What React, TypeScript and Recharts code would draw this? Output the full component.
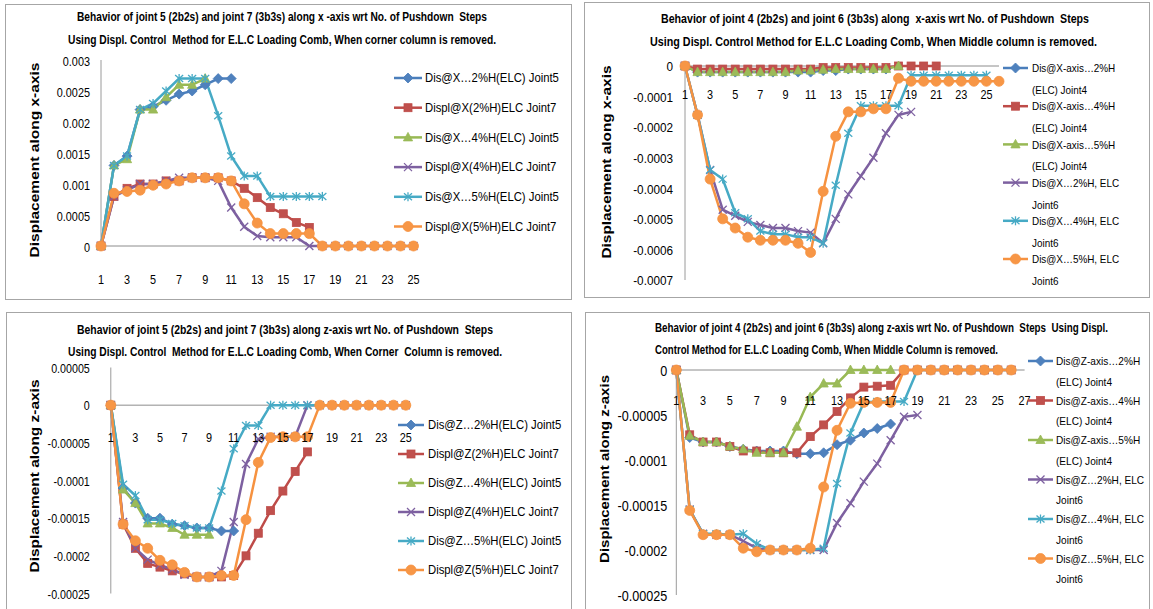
import React from 'react';
import { LineChart, Line, XAxis, YAxis, ReferenceLine, Legend } from 'recharts';

const FONT = "'Liberation Sans', Arial, sans-serif";
// the original uses a narrow (Calibri-like) face; squeeze Liberation Sans horizontally
const SX = 0.87;
const TITLE_SX = 0.75;

// pushdown steps (categories)
const steps25 = ['1', '2', '3', '4', '5', '6', '7', '8', '9', '10', '11', '12', '13', '14', '15', '16', '17', '18', '19', '20', '21', '22', '23', '24', '25'];
const steps26 = [...steps25, '26'];
const steps27 = [...steps26, '27'];

// top-left: x-axis, corner column removed
const xcJ5p2 = [0, 0.0013, 0.00145, 0.0022, 0.00225, 0.00235, 0.00245, 0.0025, 0.0026, 0.0027, 0.0027];
const xcJ7p2 = [0, 0.0008, 0.00093, 0.001, 0.001, 0.00105, 0.00105, 0.0011, 0.0011, 0.0011, 0.00105, 0.00093, 0.00078, 0.00062, 0.00052, 0.00038, 0.0003];
const xcJ5p4 = [0, 0.0013, 0.0014, 0.0022, 0.0022, 0.0024, 0.0026, 0.0026, 0.0027];
const xcJ7p4 = [0, 0.0008, 0.0009, 0.001, 0.001, 0.00105, 0.0011, 0.0011, 0.0011, 0.00105, 0.00062, 0.00031, 0.00016, 0.00014, 0.00014, 0.00014, 0, 0, 0, 0, 0, 0, 0, 0, 0];
const xcJ5p5 = [0, 0.0013, 0.00145, 0.0022, 0.0023, 0.0025, 0.0027, 0.0027, 0.0027, 0.0021, 0.00145, 0.00113, 0.00113, 0.0008, 0.0008, 0.0008, 0.0008, 0.0008];
const xcJ7p5 = [0, 0.00085, 0.00088, 0.0009, 0.00098, 0.001, 0.00105, 0.0011, 0.0011, 0.0011, 0.00105, 0.00068, 0.00037, 0.0002, 0.0002, 0.0002, 0.0002, 0, 0, 0, 0, 0, 0, 0, 0];

// top-right: x-axis, middle column removed
const xmJ4p2 = [0, -0.00002, -0.00002, -0.00002, -0.00002, -0.00002, -0.00002, -0.00002, -0.00002, -0.00002, -0.00002, -0.000015, -0.000015, -0.00001, -0.00001, -0.00001, -0.00001];
const xmJ4p4 = [0, -0.00001, -0.00001, -0.00001, -0.00001, -0.00001, -0.00001, -0.00001, -0.00001, -0.00001, -0.00001, -0.000005, -0.000005, -0.000005, -0.000005, -0.000005, -0.000005, 0, 0, 0, 0];
const xmJ4p5 = [0, -0.00002, -0.00002, -0.00002, -0.00002, -0.00002, -0.00002, -0.00002, -0.00002, -0.000015, -0.000015, -0.000012, -0.00001, -0.00001, -0.00001, -0.00001, -0.00001, 0];
const xmJ6p2 = [0, -0.00016, -0.00034, -0.00047, -0.00049, -0.00051, -0.00052, -0.00053, -0.00053, -0.00054, -0.000545, -0.00058, -0.0005, -0.00042, -0.00036, -0.0003, -0.00022, -0.00016, -0.00015];
const xmJ6p4 = [0, -0.00016, -0.00034, -0.00037, -0.00048, -0.0005, -0.00054, -0.00055, -0.00055, -0.00056, -0.00056, -0.00058, -0.00039, -0.00022, -0.00013, -0.00013, -0.00013, -0.00013, -0.00003, -0.00003, -0.00003, -0.00003, -0.00003, -0.00003, -0.00003];
const xmJ6p5 = [0, -0.00016, -0.00037, -0.0005, -0.00053, -0.00056, -0.00057, -0.00057, -0.00057, -0.00058, -0.00061, -0.00041, -0.00023, -0.00015, -0.00015, -0.00014, -0.00014, -0.00004, -0.00005, -0.00005, -0.00005, -0.00005, -0.00005, -0.00005, -0.00005, -0.00005];

// bottom-left: z-axis, corner column removed
const zcJ5p2 = [0, -0.00011, -0.00013, -0.00015, -0.00015, -0.000158, -0.00016, -0.000163, -0.000163, -0.000167, -0.000167];
const zcJ7p2 = [0, -0.000158, -0.00019, -0.00021, -0.000215, -0.00022, -0.000224, -0.000228, -0.000228, -0.000228, -0.000226, -0.0002, -0.00017, -0.00014, -0.000114, -0.000088, -0.000062];
const zcJ5p4 = [0, -0.000112, -0.00013, -0.000157, -0.000157, -0.000163, -0.000172, -0.000172, -0.000172];
const zcJ7p4 = [0, -0.000155, -0.00019, -0.000205, -0.000212, -0.000218, -0.000225, -0.000228, -0.000228, -0.00022, -0.000155, -0.000078, -0.000045, -0.000042, -0.000042, -0.000042, 0, 0, 0, 0, 0, 0, 0, 0, 0];
const zcJ5p5 = [0, -0.000105, -0.00012, -0.000152, -0.000152, -0.000157, -0.00016, -0.000163, -0.000163, -0.000114, -0.000058, -0.000027, -0.000027, 0, 0, 0, 0, 0];
const zcJ7p5 = [0, -0.000158, -0.00018, -0.00019, -0.000206, -0.000212, -0.000222, -0.000228, -0.000228, -0.000226, -0.000226, -0.000152, -0.000076, -0.000043, -0.000042, -0.000042, -0.000042, 0, 0, 0, 0, 0, 0, 0, 0];

// bottom-right: z-axis, middle column removed
const zmJ4p2 = [0, -0.000075, -0.00008, -0.00008, -0.000085, -0.000088, -0.00009, -0.00009, -0.00009, -0.000093, -0.000093, -0.000092, -0.000083, -0.000078, -0.00007, -0.000065, -0.00006];
const zmJ4p4 = [0, -0.000072, -0.00008, -0.00008, -0.000085, -0.00009, -0.00009, -0.000092, -0.000092, -0.000092, -0.000074, -0.000061, -0.000046, -0.000031, -0.000019, -0.000018, -0.000017, 0, 0, 0, 0, 0, 0, 0, 0, 0];
const zmJ4p5 = [0, -0.000073, -0.00008, -0.00008, -0.000085, -0.000088, -0.000092, -0.000092, -0.000092, -0.000063, -0.00003, -0.000015, -0.000015, 0, 0, 0, 0];
const zmJ6p2 = [0, -0.000155, -0.000182, -0.000183, -0.000183, -0.00019, -0.000198, -0.0002, -0.0002, -0.0002, -0.0002, -0.0002, -0.00017, -0.000148, -0.000124, -0.000104, -0.000078, -0.000052, -0.00005];
const zmJ6p4 = [0, -0.000155, -0.000182, -0.000182, -0.000183, -0.000182, -0.000193, -0.0002, -0.0002, -0.0002, -0.0002, -0.000198, -0.000126, -0.00007, -0.000036, -0.000035, -0.000035, -0.000035, 0, 0, 0, 0, 0, 0, 0, 0];
const zmJ6p5 = [0, -0.000156, -0.000183, -0.000183, -0.000183, -0.000198, -0.000202, -0.0002, -0.0002, -0.0002, -0.000198, -0.00013, -0.000067, -0.000037, -0.000036, -0.000036, -0.000036, 0, 0, 0, 0, 0, 0, 0, 0, 0];

// axis ticks
const ticksXC = [0, 0.0005, 0.001, 0.0015, 0.002, 0.0025, 0.003];
const ticksXM = [0, -0.0001, -0.0002, -0.0003, -0.0004, -0.0005, -0.0006, -0.0007];
const ticksZ = [0.00005, 0, -0.00005, -0.0001, -0.00015, -0.0002, -0.00025];
const ticksZM = [0, -0.00005, -0.0001, -0.00015, -0.0002, -0.00025];

// legend labels
const namesXC = [['Dis@X…2%H(ELC) Joint5'], ['Displ@X(2%H)ELC Joint7'], ['Dis@X…4%H(ELC) Joint5'], ['Displ@X(4%H)ELC Joint7'], ['Dis@X…5%H(ELC) Joint5'], ['Displ@X(5%H)ELC Joint7']];
const namesXM = [['Dis@X-axis…2%H', '(ELC) Joint4'], ['Dis@X-axis…4%H', '(ELC) Joint4'], ['Dis@X-axis…5%H', '(ELC) Joint4'], ['Dis@X…2%H, ELC', 'Joint6'], ['Dis@X…4%H, ELC', 'Joint6'], ['Dis@X…5%H, ELC', 'Joint6']];
const namesZC = [['Dis@Z…2%H(ELC) Joint5'], ['Displ@Z(2%H)ELC Joint7'], ['Dis@Z…4%H(ELC) Joint5'], ['Displ@Z(4%H)ELC Joint7'], ['Dis@Z…5%H(ELC) Joint5'], ['Displ@Z(5%H)ELC Joint7']];
const namesZM = [['Dis@Z-axis…2%H', '(ELC) Joint4'], ['Dis@Z-axis…4%H', '(ELC) Joint4'], ['Dis@Z-axis…5%H', '(ELC) Joint4'], ['Dis@Z…2%H, ELC', 'Joint6'], ['Dis@Z…4%H, ELC', 'Joint6'], ['Dis@Z…5%H, ELC', 'Joint6']];

type Shape = 'diamond' | 'square' | 'triangle' | 'cross' | 'star' | 'circle';
const SHAPES: Shape[] = ['diamond', 'square', 'triangle', 'cross', 'star', 'circle'];
const LINE_COLORS = ['#4A7EBB', '#BE4B48', '#98B954', '#7D60A0', '#46AAC5', '#F69240'];
const FILL_COLORS = ['#4F81BD', '#C0504D', '#9BBB59', '#7D60A0', '#4BACC6', '#F79646'];

function Marker({ shape, cx, cy, i }: { shape: Shape; cx: number; cy: number; i: number }) {
  if (cx == null || cy == null || isNaN(cx) || isNaN(cy)) return <g />;
  const fill = FILL_COLORS[i];
  const stroke = LINE_COLORS[i];
  switch (shape) {
    case 'diamond':
      return <polygon points={`${cx},${cy - 5} ${cx + 5},${cy} ${cx},${cy + 5} ${cx - 5},${cy}`} fill={fill} stroke={stroke} strokeWidth={0.8} />;
    case 'square':
      return <rect x={cx - 4} y={cy - 4} width={8} height={8} fill={fill} stroke={stroke} strokeWidth={0.8} />;
    case 'triangle':
      return <polygon points={`${cx},${cy - 5} ${cx + 4.6},${cy + 3.5} ${cx - 4.6},${cy + 3.5}`} fill={fill} stroke={stroke} strokeWidth={0.8} />;
    case 'cross':
      return (
        <g stroke={stroke} strokeWidth={1.3}>
          <line x1={cx - 4} y1={cy - 4} x2={cx + 4} y2={cy + 4} />
          <line x1={cx - 4} y1={cy + 4} x2={cx + 4} y2={cy - 4} />
        </g>
      );
    case 'star':
      return (
        <g stroke={stroke} strokeWidth={1.3}>
          <line x1={cx - 4} y1={cy - 3.5} x2={cx + 4} y2={cy + 3.5} />
          <line x1={cx - 4} y1={cy + 3.5} x2={cx + 4} y2={cy - 3.5} />
          <line x1={cx} y1={cy - 4.5} x2={cx} y2={cy + 4.5} />
        </g>
      );
    default:
      return <circle cx={cx} cy={cy} r={5} fill={fill} stroke={stroke} strokeWidth={0.8} />;
  }
}

// narrow text: regular face squeezed horizontally
function NText({ x, y, size, anchor = 'start', children }: { x: number; y: number; size: number; anchor?: string; children: React.ReactNode }) {
  return (
    <text transform={`translate(${x},${y}) scale(${SX},1)`} textAnchor={anchor} dominantBaseline="central"
      fontFamily={FONT} fontSize={size} fill="#000">
      {children}
    </text>
  );
}

type Box = { left: number; top: number; w: number; h: number };

interface PanelCfg {
  box: Box;
  plot: Box;
  cats: string[];
  values: number[][];
  names: string[][];
  yDomain: [number, number];
  yTicks: number[];
  yTickGap: number;
  yTickSize: number;
  xGap: number;
  yLabel: { text: string; x: number; cy: number; len: number };
  legend: { x0: number; x1: number; tx: number; y0: number; pitch: number; dy2: number; size: number };
}

function AxisTitle({ px, py, text, len }: { px: number; py: number; text: string; len: number }) {
  return (
    <text transform={`translate(${px},${py}) rotate(-90)`} textAnchor="middle" dominantBaseline="central"
      fontFamily={FONT} fontWeight="bold" fontSize={12.5} fill="#000" textLength={len} lengthAdjust="spacingAndGlyphs">
      {text}
    </text>
  );
}

function Panel({ cfg }: { cfg: PanelCfg }) {
  const { box, plot, cats, values, names, yDomain, yTicks, yTickGap, yTickSize, xGap, yLabel, legend } = cfg;
  const data = cats.map((c, i) => {
    const row: Record<string, any> = { step: c };
    values.forEach((v, k) => { row['s' + k] = i < v.length ? v[i] : null; });
    return row;
  });
  const top = plot.top - box.top;
  const yw = plot.left - box.left;
  const margin = { top, left: 0, right: box.w - yw - plot.w, bottom: box.h - top - plot.h - 1 };
  const [yMin, yMax] = yDomain;
  const zeroUp = (plot.h * (0 - yMin)) / (yMax - yMin);

  const XTick = (p: any) => <NText x={p.x} y={p.y - zeroUp + xGap} size={12.5} anchor="middle">{p.payload.value}</NText>;
  const YTick = (p: any) => <NText x={p.x} y={p.y + 1} size={yTickSize} anchor="end">{String(p.payload.value)}</NText>;

  const lgLeft = legend.x0 - box.left - 4;
  const lgTop = legend.y0 - box.top - 14;
  const lgW = box.w - lgLeft - 3;
  const lgH = legend.pitch * names.length + 20;

  const LegendBox = () => (
    <svg width={lgW} height={lgH} style={{ display: 'block', overflow: 'visible' }}>
      {names.map((lines, i) => {
        const y = 14 + legend.pitch * i;
        const x0 = 4;
        const x1 = legend.x1 - legend.x0 + 4;
        const tx = legend.tx - legend.x0 + 4;
        return (
          <g key={i}>
            <line x1={x0} y1={y} x2={x1} y2={y} stroke={LINE_COLORS[i]} strokeWidth={2.5} />
            <Marker shape={SHAPES[i]} cx={(x0 + x1) / 2} cy={y} i={i} />
            {lines.map((t, j) => (
              <NText key={j} x={tx} y={y + j * legend.dy2} size={legend.size}>{t}</NText>
            ))}
          </g>
        );
      })}
    </svg>
  );

  return (
    <div style={{ position: 'absolute', left: box.left, top: box.top, width: box.w, height: box.h }}>
      <LineChart width={box.w} height={box.h} data={data} margin={margin}>
        <XAxis dataKey="step" height={1} axisLine={false} tickLine={false} tickSize={0} tickMargin={0} interval={1} tick={XTick} />
        <YAxis type="number" domain={yDomain} ticks={yTicks} interval={0} width={yw} axisLine={{ stroke: '#9a9a9a' }} tickLine={false}
          tickSize={0} tickMargin={yTickGap} tick={YTick}
          label={<AxisTitle px={yLabel.x - box.left} py={yLabel.cy - box.top} text={yLabel.text} len={yLabel.len} />} />
        <ReferenceLine y={0} stroke="#8c8c8c" strokeWidth={1} />
        {values.map((_, k) => (
          <Line key={k} type="linear" dataKey={'s' + k} name={names[k].join(' ')} stroke={LINE_COLORS[k]} strokeWidth={2.5}
            isAnimationActive={false} activeDot={false}
            dot={(p: any) => <Marker key={'d' + k + '-' + p.index} shape={SHAPES[k]} cx={p.cx} cy={p.cy} i={k} />} />
        ))}
        <Legend layout="horizontal" verticalAlign="middle" align="center"
          wrapperStyle={{ left: lgLeft, top: lgTop, width: lgW, height: lgH }} content={() => <LegendBox />} />
      </LineChart>
    </div>
  );
}

const panels: PanelCfg[] = [
  {
    box: { left: 5, top: 4, w: 567, h: 296 },
    plot: { left: 101, top: 60, w: 312.5, h: 186 },
    cats: steps25,
    values: [xcJ5p2, xcJ7p2, xcJ5p4, xcJ7p4, xcJ5p5, xcJ7p5],
    names: namesXC,
    yDomain: [0, 0.003],
    yTicks: ticksXC,
    yTickGap: 11,
    yTickSize: 12.5,
    xGap: 33,
    yLabel: { text: 'Displacement  along x-axis', x: 35, cy: 160, len: 195 },
    legend: { x0: 394, x1: 422, tx: 425, y0: 78.3, pitch: 29.7, dy2: 0, size: 13 },
  },
  {
    box: { left: 584, top: 2, w: 566, h: 296 },
    plot: { left: 685, top: 66, w: 314, h: 214 },
    cats: steps26,
    values: [xmJ4p2, xmJ4p4, xmJ4p5, xmJ6p2, xmJ6p4, xmJ6p5],
    names: namesXM,
    yDomain: [-0.0007, 0],
    yTicks: ticksXM,
    yTickGap: 12,
    yTickSize: 13.5,
    xGap: 28,
    yLabel: { text: 'Displacement  along x-axis', x: 607, cy: 162, len: 193 },
    legend: { x0: 1003, x1: 1028, tx: 1032, y0: 68.3, pitch: 38.2, dy2: 21.7, size: 11.4 },
  },
  {
    box: { left: 6, top: 312, w: 566, h: 297 },
    plot: { left: 110.8, top: 367.5, w: 295, h: 226 },
    cats: steps25,
    values: [zcJ5p2, zcJ7p2, zcJ5p4, zcJ7p4, zcJ5p5, zcJ7p5],
    names: namesZC,
    yDomain: [-0.00025, 0.00005],
    yTicks: ticksZ,
    yTickGap: 21,
    yTickSize: 12.3,
    xGap: 32,
    yLabel: { text: 'Displacement  along z-axis', x: 35, cy: 476, len: 193 },
    legend: { x0: 398, x1: 424, tx: 428, y0: 425, pitch: 29, dy2: 0, size: 13 },
  },
  {
    box: { left: 585, top: 312, w: 565, h: 297 },
    plot: { left: 676.3, top: 370, w: 348.3, h: 225 },
    cats: steps27,
    values: [zmJ4p2, zmJ4p4, zmJ4p5, zmJ6p2, zmJ6p4, zmJ6p5],
    names: namesZM,
    yDomain: [-0.00025, 0],
    yTicks: ticksZM,
    yTickGap: 9,
    yTickSize: 14.5,
    xGap: 30,
    yLabel: { text: 'Displacement  along z-axis', x: 605, cy: 469, len: 188 },
    legend: { x0: 1028, x1: 1053, tx: 1056, y0: 361, pitch: 39.5, dy2: 20.7, size: 11.6 },
  },
];

const titles = [
  { text: 'Behavior of joint 5 (2b2s) and joint 7 (3b3s) along x -axis wrt No. of Pushdown  Steps', x: 77, y: 16, len: 410 },
  { text: 'Using Displ. Control  Method for E.L.C Loading Comb, When corner column is removed.', x: 68, y: 39, len: 428 },
  { text: 'Behavior of joint 4 (2b2s) and joint 6 (3b3s) along  x-axis wrt No. of Pushdown  Steps', x: 661, y: 18, len: 428 },
  { text: 'Using Displ. Control Method for E.L.C Loading Comb, When Middle column is removed.', x: 650, y: 41, len: 447 },
  { text: 'Behavior of joint 5 (2b2s) and joint 7 (3b3s) along z-axis wrt No. of Pushdown  Steps', x: 77, y: 329, len: 416 },
  { text: 'Using Displ. Control  Method for E.L.C Loading Comb, When Corner  Column is removed.', x: 68, y: 351, len: 434 },
  { text: 'Behavior of joint 4 (2b2s) and joint 6 (3b3s) along z-axis wrt No. of Pushdown  Steps  Using Displ.', x: 655, y: 327, len: 453 },
  { text: 'Control Method for E.L.C Loading Comb, When Middle Column is removed.', x: 655, y: 349, len: 343 },
];

export default function App() {
  return (
    <div style={{ position: 'absolute', left: 0, top: 0, width: 1153, height: 609, background: '#fff', overflow: 'hidden', fontFamily: FONT }}>
      {panels.map((p, i) => (
        <div key={'b' + i} style={{ position: 'absolute', left: p.box.left, top: p.box.top, width: p.box.w, height: p.box.h + (i > 1 ? 10 : 0), border: '1px solid #a6a6a6', boxSizing: 'border-box' }} />
      ))}
      {panels.map((p, i) => <Panel key={i} cfg={p} />)}
      <svg width={1153} height={609} style={{ position: 'absolute', left: 0, top: 0, pointerEvents: 'none' }}>
        {titles.map((t, i) => (
          <text key={i} transform={`translate(${t.x},${t.y}) scale(${TITLE_SX},1)`} dominantBaseline="central" fontFamily={FONT}
            fontWeight="bold" fontSize={12.5} fill="#000" textLength={t.len / TITLE_SX} lengthAdjust="spacingAndGlyphs"
            style={{ whiteSpace: 'pre' }}>
            {t.text}
          </text>
        ))}
      </svg>
    </div>
  );
}
